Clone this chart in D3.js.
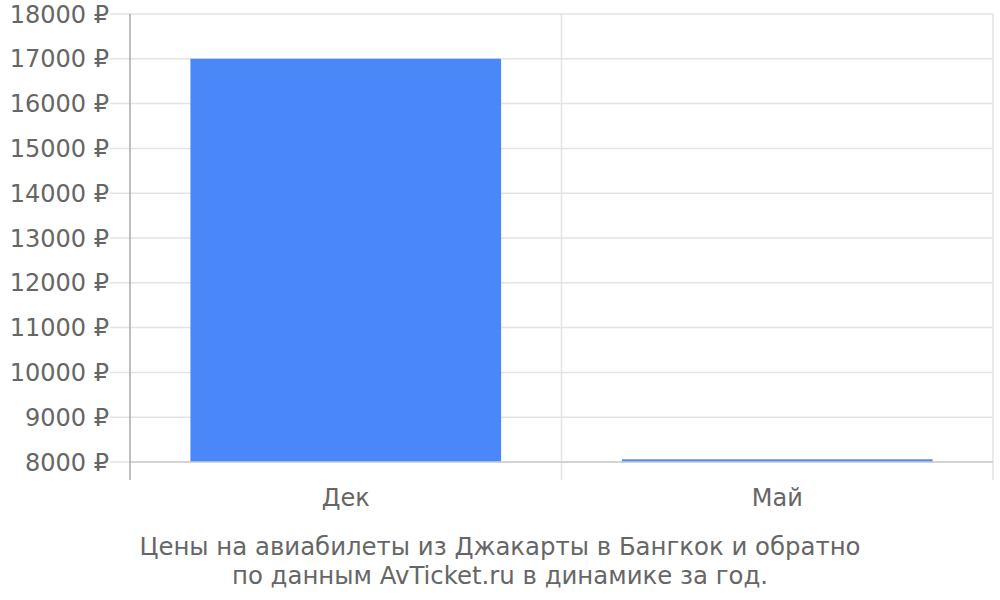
<!DOCTYPE html>
<html>
<head>
<meta charset="utf-8">
<script src="https://cdn.jsdelivr.net/npm/d3@7"></script>
<style>
  body { margin: 0; background: #fff; }
  svg { display: block; font-family: "DejaVu Sans", sans-serif; }
</style>
</head>
<body>
<div class="chart"></div>
<script>
// Chart data
const months = ["Дек", "Май"];
const prices = [17000, 8060];
const yTicks = [8000, 9000, 10000, 11000, 12000, 13000, 14000, 15000, 16000, 17000, 18000];
const titleLines = [
    "Цены на авиабилеты из Джакарты в Бангкок и обратно",
    "по данным AvTicket.ru в динамике за год."
];

const width = 1000, height = 600;
const margin = { top: 14, right: 7, bottom: 138, left: 130 };
const fontSize = "24px";

const svg = d3.select(".chart")
    .append("svg")
    .attr("width", width)
    .attr("height", height);

// Scales
const x = d3.scaleBand()
    .domain(months)
    .range([margin.left, width - margin.right])
    .paddingInner(0.28)
    .paddingOuter(0.14);

const y = d3.scaleLinear()
    .domain([8000, 18000])
    .range([height - margin.bottom, margin.top]);

const plotBottom = height - margin.bottom;

// Horizontal gridlines, stretching left past the axis like tick marks
svg.append("g")
    .selectAll("line")
    .data(yTicks)
    .join("line")
    .attr("x1", margin.left - 20)
    .attr("x2", width - margin.right)
    .attr("y1", d => y(d))
    .attr("y2", d => y(d))
    .attr("stroke", "#e3e3e3")
    .attr("stroke-width", 1.5);

// Vertical gridlines on category boundaries
const bounds = [x.range()[0], x.range()[0] + x.step(), x.range()[1]];
svg.append("g")
    .selectAll("line")
    .data(bounds.slice(1))
    .join("line")
    .attr("x1", d => d)
    .attr("x2", d => d)
    .attr("y1", margin.top)
    .attr("y2", plotBottom + 18)
    .attr("stroke", "#e3e3e3")
    .attr("stroke-width", 1.5);

// Bars
svg.append("g")
    .selectAll("rect")
    .data(months.map((m, i) => ({ m, v: prices[i] })))
    .join("rect")
    .attr("x", d => x(d.m))
    .attr("width", x.bandwidth())
    .attr("y", d => y(d.v))
    .attr("height", d => plotBottom - y(d.v))
    .attr("fill", "#4a88f9");

// Bottom axis line
svg.append("line")
    .attr("x1", margin.left)
    .attr("x2", width - margin.right)
    .attr("y1", plotBottom)
    .attr("y2", plotBottom)
    .attr("stroke", "#cccccc")
    .attr("stroke-width", 1.5);

// Left axis line
svg.append("line")
    .attr("x1", margin.left)
    .attr("x2", margin.left)
    .attr("y1", margin.top)
    .attr("y2", plotBottom + 18)
    .attr("stroke", "#aaaaaa")
    .attr("stroke-width", 1.5);

// Y tick labels
svg.append("g")
    .selectAll("text")
    .data(yTicks)
    .join("text")
    .attr("x", margin.left - 21)
    .attr("y", d => y(d))
    .attr("dy", "0.36em")
    .attr("text-anchor", "end")
    .attr("fill", "#666")
    .style("font-size", fontSize)
    .text(d => d + " ₽");

// X labels
svg.append("g")
    .selectAll("text")
    .data(months)
    .join("text")
    .attr("x", d => x(d) + x.bandwidth() / 2)
    .attr("y", plotBottom + 44)
    .attr("text-anchor", "middle")
    .attr("fill", "#666")
    .style("font-size", fontSize)
    .text(d => d);

// Caption
svg.append("g")
    .selectAll("text")
    .data(titleLines)
    .join("text")
    .attr("x", width / 2)
    .attr("y", (d, i) => 555 + i * 29)
    .attr("text-anchor", "middle")
    .attr("fill", "#666")
    .style("font-size", "24.4px")
    .text(d => d);
</script>
</body>
</html>
